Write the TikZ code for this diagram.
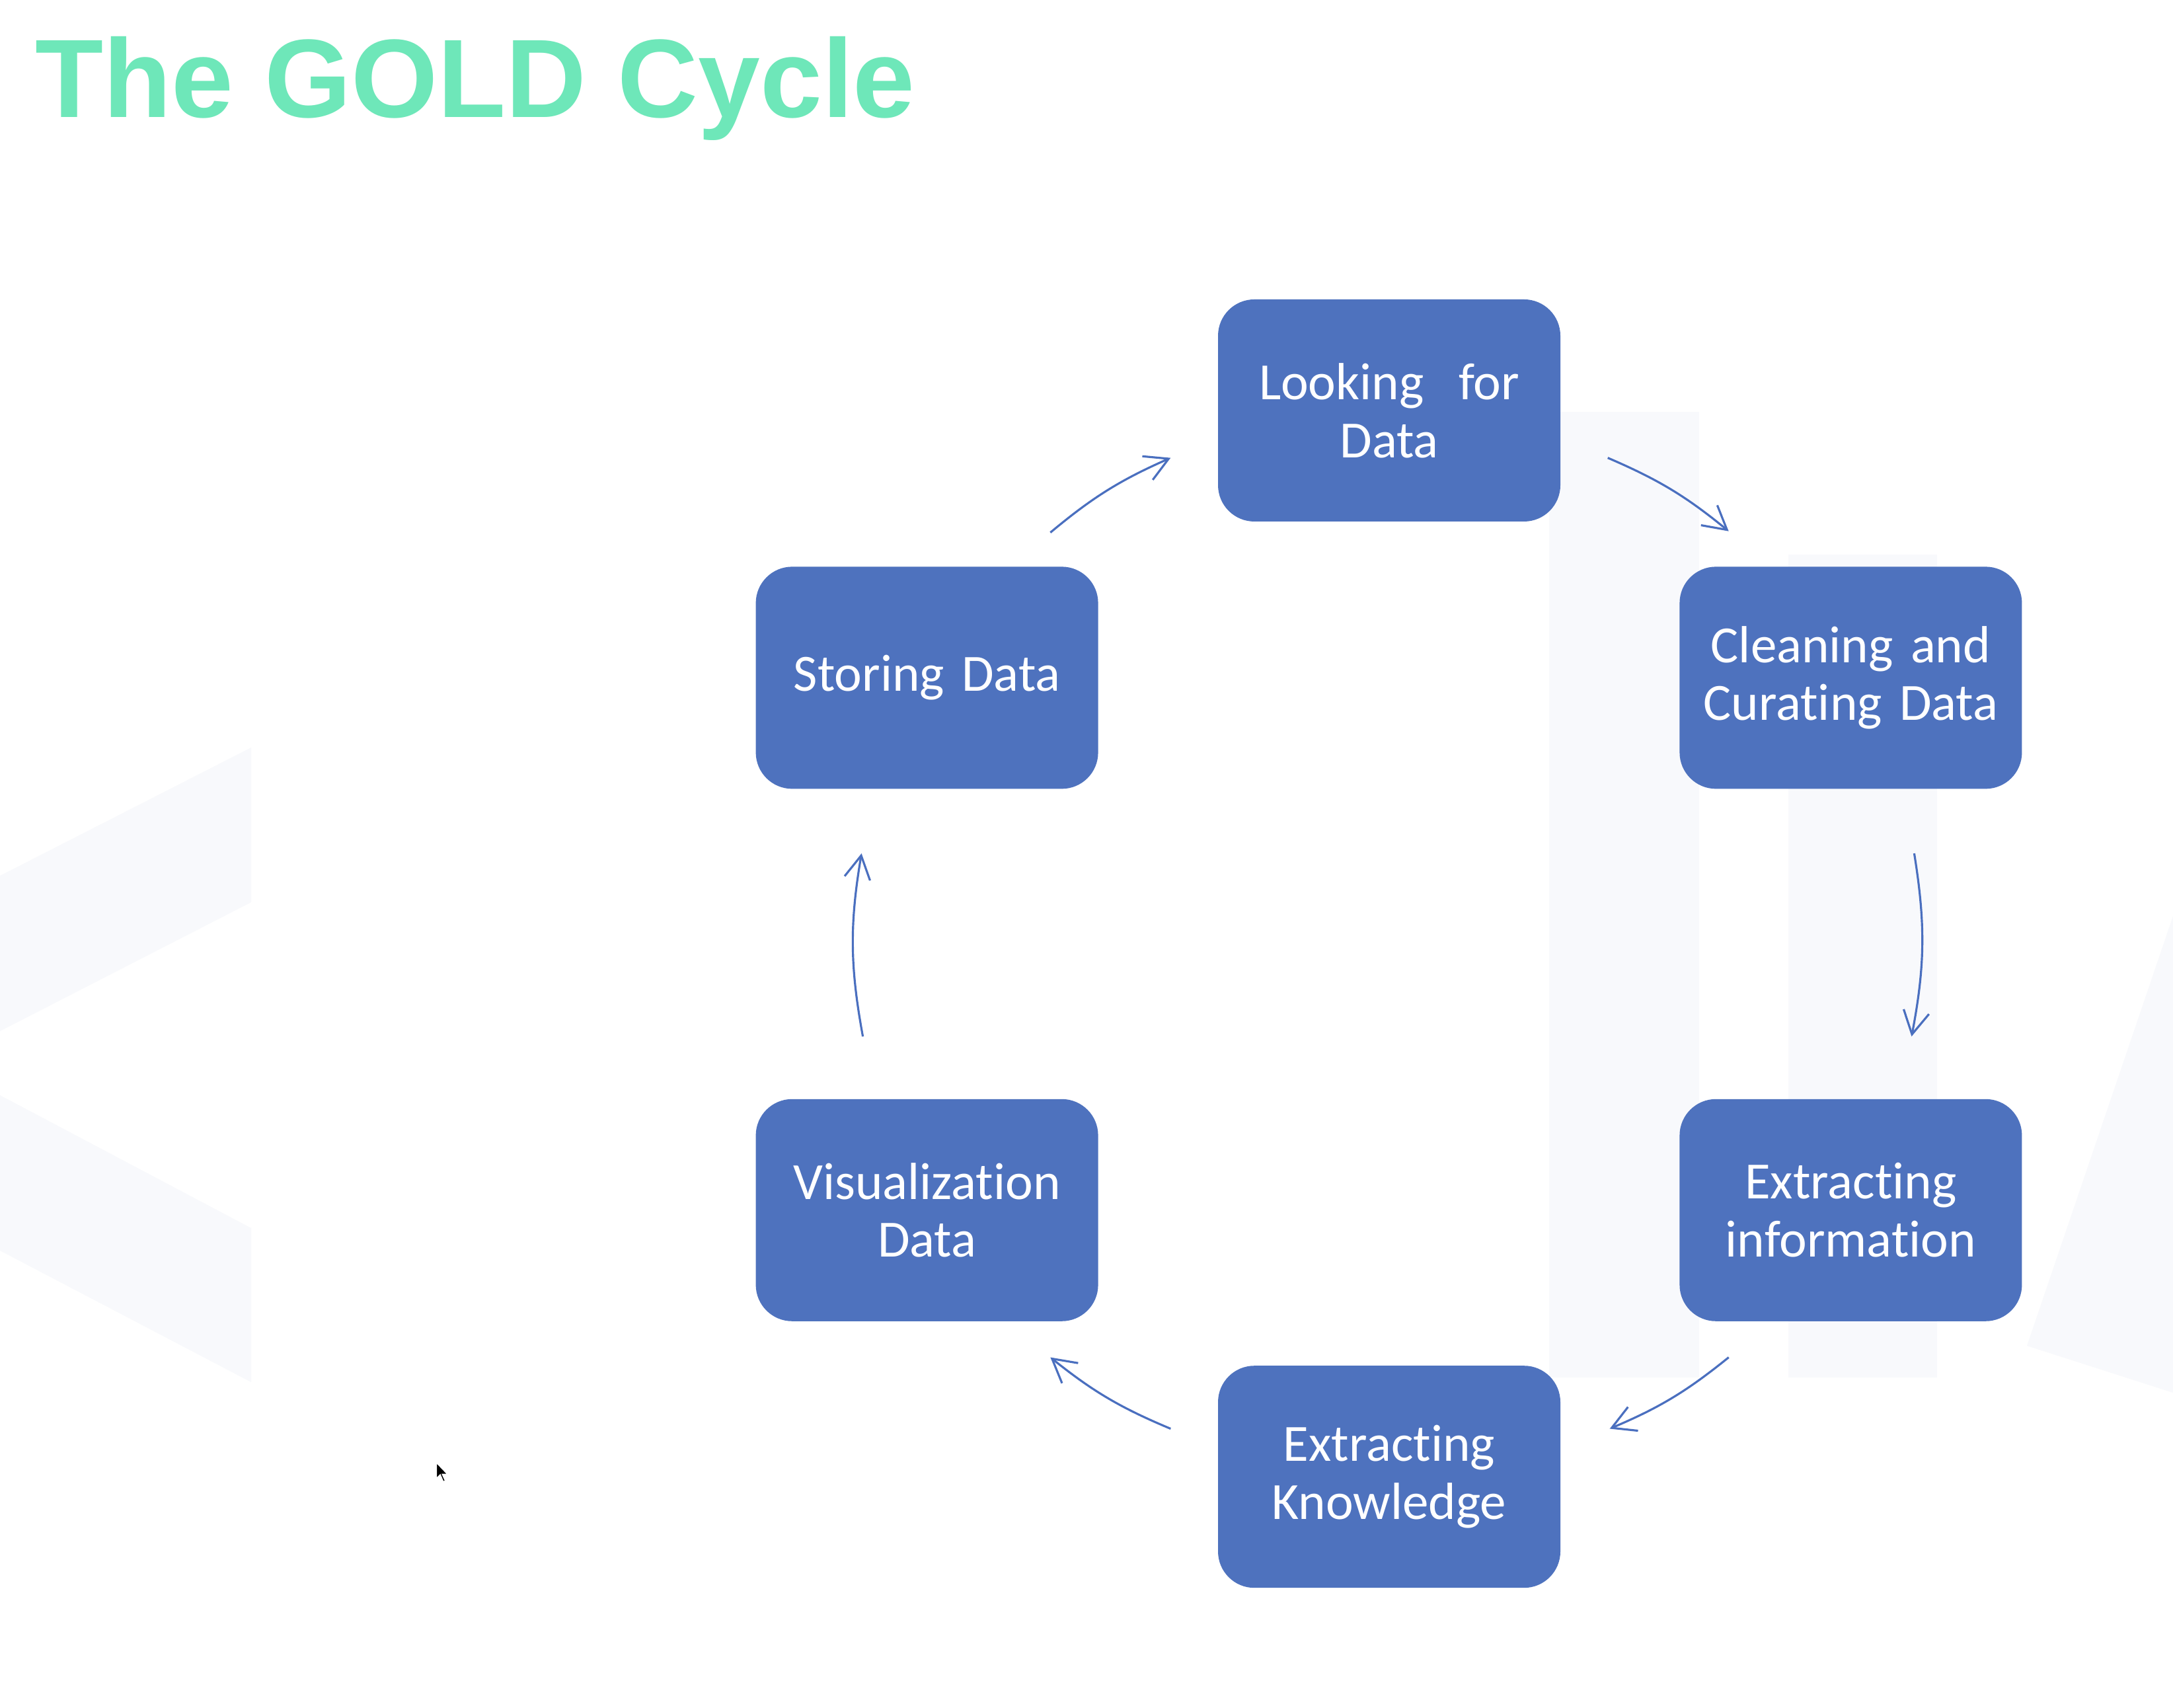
\documentclass[tikz,border=0pt]{standalone}
\usepackage{fontspec}
\setmainfont{Carlito}[Ligatures = NoCommon]
\newfontfamily\titlefont{Liberation Sans}
\usetikzlibrary{positioning,arrows.meta,calc}
\definecolor{stageblue}{HTML}{4E72BE}
\definecolor{arrowblue}{HTML}{4A6FBF}
\definecolor{mint}{HTML}{6EE7B9}
\definecolor{ghostgray}{HTML}{F8F9FC}
\tikzset{
	>={Straight Barb[length=3.5mm,width=3.9mm]}
}

\begin{document}
\begin{tikzpicture}[
every node/.style = {
	font = \fontsize{22.5}{25}\selectfont
},
slide title/.style = {
	font = \titlefont\bfseries\fontsize{48}{56}\selectfont,
	text = mint,
	inner sep = 0pt
},
stage/.style = {
	fill = stageblue,
	text = white,
	rounded corners = 5.5mm,
	minimum width = 5.18cm,
	minimum height = 3.36cm,
	text width = 4.8cm,
	align = center,
	inner sep = 0pt
},
flow/.style = {
	->,
	line width = 0.9pt,
	arrowblue
},
watermark/.style = {
	fill = ghostgray
}
]

\useasboundingbox (0,0) rectangle (32.88,25.84);
\fill[white] (0,0) rectangle (32.88,25.84);

% faint backdrop
\fill[watermark] (0,12.59) -- (3.80,14.53) -- (3.80,12.19) -- (0,10.24) -- cycle;
\fill[watermark] (0,9.27) -- (3.80,7.26) -- (3.80,4.93) -- (0,6.92) -- cycle;
\fill[watermark] (23.44,5.00) rectangle (25.71,19.61);
\fill[watermark] (27.06,5.00) rectangle (29.31,17.45);
\fill[watermark] (32.88,11.98) -- (30.67,5.48) -- (32.88,4.77) -- cycle;

\node [slide title, anchor = base west] (heading) at (0.53,24.06) {The GOLD Cycle};

\node [stage] (look) at (21.02,19.63) {Looking\ \ for\\Data};
\node [stage, below right = 0.67cm and 1.79cm of look] (clean) {Cleaning and\\Curating Data};
\node [stage, below left = 0.67cm and 1.80cm of look] (store) {Storing Data};
\node [stage, below = 4.68cm of clean] (info) {Extracting\\information};
\node [stage, below = 4.68cm of store] (vis) {Visualization\\Data};
\node [stage, below left = 0.66cm and 1.79cm of info] (know) {Extracting\\Knowledge};

\draw[flow] ($(store.north east)+(-0.73,0.51)$) to[bend left=8] ($(look.south west)+(-0.71,0.97)$);
\draw[flow] ($(look.south east)+(0.71,0.97)$) to[bend left=8] ($(clean.north west)+(0.75,0.53)$);
\draw[flow] ($(clean.south)+(0.96,-0.97)$) to[bend left=10] ($(info.north)+(0.92,0.94)$);
\draw[flow] ($(info.south west)+(0.75,-0.54)$) to[bend left=8] ($(know.north east)+(0.74,-0.96)$);
\draw[flow] ($(know.north west)+(-0.71,-0.96)$) to[bend left=8] ($(vis.south east)+(-0.73,-0.54)$);
\draw[flow] ($(vis.north)+(-0.97,0.94)$) to[bend left=10] ($(store.south)+(-0.99,-0.97)$);

% mouse pointer
\begin{scope}[shift = {(6.60,3.72)}, x = 0.015cm, y = 0.015cm]
\filldraw[fill = black, draw = white, line width = 0.6pt] (0,0) -- (0,-17) -- (4,-13) -- (7,-20) -- (9.5,-19) -- (6.5,-12.5) -- (12,-12.5) -- cycle;
\end{scope}

\end{tikzpicture}
\end{document}
